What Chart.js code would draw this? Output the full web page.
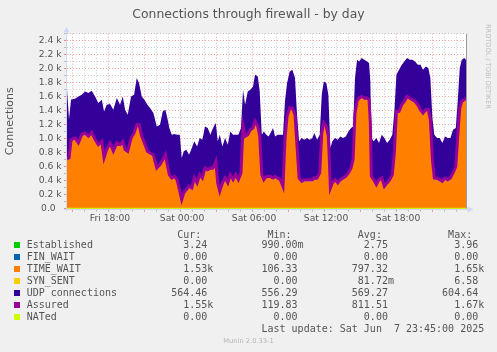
<!DOCTYPE html>
<html><head><meta charset="utf-8">
<script src="https://cdn.jsdelivr.net/npm/chart.js@4.4.1/dist/chart.umd.min.js"></script>
<style>
html,body{margin:0;padding:0;background:#F0F0F0;}
body{width:497px;height:352px;position:relative;overflow:hidden;font-family:"DejaVu Sans",sans-serif;}
#c{position:absolute;left:0;top:0;}
.t{position:absolute;white-space:pre;color:#555;}
#title{left:0;width:497px;text-align:center;top:6.5px;font-size:12.4px;line-height:14px;}
.lg{font-family:"DejaVu Sans Mono",monospace;font-size:10px;line-height:12px;left:26.7px;}
.box{position:absolute;width:6px;height:6px;left:14px;}
#side{left:484.3px;top:24px;font-size:6.6px;line-height:8px;writing-mode:vertical-rl;color:#bcbcbc;}
#munin{left:0;width:497px;text-align:center;top:337px;font-size:6.7px;line-height:8px;color:#b4b4b4;}
</style></head><body>
<canvas id="c" width="497" height="352"></canvas>
<div id="title" class="t">Connections through firewall - by day</div>
<div id="side" class="t">RRDTOOL / TOBI OETIKER</div>
<div id="legend"></div>
<div id="munin" class="t">Munin 2.0.33-1</div>
<script>
// ---- data (hours since Fri 00:00) ----
const hours = [14.58,14.75,14.92,15.25,15.53,15.81,16.08,16.36,16.64,16.92,
17.19,17.48,17.67,17.89,18.17,18.44,18.73,19.00,19.23,19.42,
19.64,19.92,20.17,20.39,20.58,20.81,21.03,21.28,21.50,21.78,
22.06,22.33,22.56,22.78,22.94,23.11,23.31,23.53,23.75,23.98,
24.14,24.31,24.53,24.75,24.98,25.19,25.42,25.64,25.86,26.08,
26.31,26.53,26.75,26.98,27.14,27.31,27.53,27.75,27.98,28.19,
28.42,28.64,28.86,29.08,29.25,29.42,29.64,29.86,30.08,30.25,
30.48,30.64,30.81,30.98,31.19,31.38,31.54,31.75,31.92,32.14,
32.36,32.58,32.75,32.92,33.14,33.36,33.58,33.75,33.92,34.14,
34.36,34.58,34.81,35.03,35.19,35.42,35.64,35.81,35.98,36.19,
36.36,36.53,36.69,36.92,37.14,37.36,37.58,37.81,38.03,38.25,
38.42,38.58,38.75,38.92,39.14,39.36,39.58,39.75,39.86,39.94,
40.14,40.36,40.58,40.81,41.03,41.25,41.48,41.69,41.86,42.03,
42.25,42.48,42.69,42.92,43.14,43.36,43.58,43.81,44.03,44.25,
44.48,44.69,44.86,45.03,45.19,45.42,45.64,45.86,46.08,46.31,
46.53,46.75,46.98,47.14,47.31,47.48,47.69,47.83];

const timeWait = [700,700,960,985,914,1033,1057,1009,1066,962,
890,938,700,819,914,795,914,890,938,819,
795,985,1057,1176,1176,1009,914,795,771,747,
557,605,676,747,605,462,414,438,390,224,
105,200,248,295,271,414,343,462,414,557,
533,557,557,652,343,224,343,414,343,462,
390,462,390,486,1152,1009,1033,1104,1128,1223,
1152,1009,462,390,438,438,438,414,438,414,
390,295,985,1295,1414,1414,1319,866,414,367,
390,390,390,390,414,414,486,1057,1200,1152,
1009,271,343,390,343,390,414,438,486,557,
676,1342,1509,1557,1580,1557,1557,1533,1200,438,
390,319,390,414,295,343,390,462,771,1366,
1366,1461,1509,1580,1557,1533,1509,1461,1390,1342,
1390,1390,1247,676,414,414,390,367,414,390,
414,486,581,1009,1414,1509,1533,1557];

const udp = [1000,580,600,586,690,595,619,643,619,642,
619,619,690,666,581,619,666,595,666,595,
547,619,571,690,619,595,643,690,667,619,
619,595,714,667,690,690,643,628,667,833,
619,619,595,476,595,548,547,547,571,619,
619,500,595,571,619,833,547,595,571,642,
667,595,667,666,548,476,643,596,619,691,
738,667,595,714,619,595,642,738,595,643,
667,762,560,500,547,571,547,476,548,642,
595,619,595,619,666,571,571,571,618,643,
619,595,619,619,642,643,595,595,618,595,
500,520,619,547,572,571,547,547,618,571,
572,690,548,643,714,595,595,595,619,548,
619,595,595,572,571,595,595,595,666,643,
642,619,619,619,643,595,619,571,619,619,
595,642,571,524,595,619,619,571];

const assured = [722,728,985,1012,940,1060,1080,1036,1090,988,
915,962,728,845,938,822,940,915,962,845,
820,1010,1082,1200,1202,1034,940,820,796,772,
582,630,700,772,630,488,440,462,415,250,
130,226,272,320,296,440,368,488,440,582,
558,582,582,676,368,250,368,440,368,488,
415,488,415,512,1176,1034,1058,1130,1152,1248,
1178,1034,488,415,462,464,462,440,462,440,
415,320,1010,1320,1440,1438,1344,890,440,392,
415,415,416,415,440,438,512,1082,1226,1176,
1034,296,368,415,368,415,440,462,512,582,
700,1366,1534,1582,1604,1582,1582,1558,1226,462,
415,345,415,440,320,368,415,488,796,1390,
1392,1486,1534,1604,1582,1558,1534,1486,1415,1366,
1415,1416,1272,700,440,438,415,392,440,415,
440,512,606,1034,1440,1534,1558,1582];

const edgeHours = [14.58, 47.83];
const established = [3, 3.24];
const nated = [0, 0];

const seriesNames  = ['Established','FIN_WAIT','TIME_WAIT','SYN_SENT','UDP connections','Assured','NATed'];
const seriesColors = ['#00CC00','#0066B3','#FF8000','#FFCC00','#330099','#990099','#CCFF00'];
const curVals = ['3.24','0.00','1.53k','0.00','564.46','1.55k','0.00'];
const minVals = ['990.00m','0.00','106.33','0.00','556.29','119.83','0.00'];
const avgVals = ['2.75','0.00','797.32','81.72m','569.27','811.51','0.00'];
const maxVals = ['3.96','0.00','1.65k','6.58','604.64','1.67k','0.00'];
const lastUpdate = 'Last update: Sat Jun  7 23:45:00 2025';

const xGridHours = [15,16,17,18,19,20,21,22,23,24,25,26,27,28,29,30,31,32,33,34,35,36,37,38,39,40,41,42,43,44,45,46,47];
const xLabelHours = [18,24,30,36,42];
const xLabels = ['Fri 18:00','Sat 00:00','Sat 06:00','Sat 12:00','Sat 18:00'];
const yGridValues = [0,100,200,300,400,500,600,700,800,900,1000,1100,1200,1300,1400,1500,1600,1700,1800,1900,2000,2100,2200,2300,2400,2500];
const yLabelValues = [0,200,400,600,800,1000,1200,1400,1600,1800,2000,2200,2400];
const yLabels = ['0.0  ','0.2 k','0.4 k','0.6 k','0.8 k','1.0 k','1.2 k','1.4 k','1.6 k','1.8 k','2.0 k','2.2 k','2.4 k'];

// ---- legend (text) ----
(function(){
  const lg = document.getElementById('legend');
  function put(a, s, col){ for (let i=0;i<s.length;i++) a[col+i]=s[i]; }
  const hdr = Array(76).fill(' ');
  put(hdr,'Cur:',25); put(hdr,'Min:',40); put(hdr,'Avg:',55); put(hdr,'Max:',70);
  const h = document.createElement('div'); h.className='t lg'; h.style.top='228.7px';
  h.textContent = hdr.join('').replace(/\s+$/,''); lg.appendChild(h);
  const ends=[30,45,60,75];
  seriesNames.forEach((name,i)=>{
    const a = Array(77).fill(' ');
    put(a,name,0);
    [curVals[i],minVals[i],avgVals[i],maxVals[i]].forEach((s,j)=>{
      let num=s, unit=' ';
      if (/[a-z]$/i.test(s)) { unit=s.slice(-1); num=s.slice(0,-1); }
      put(a,num,ends[j]-num.length); put(a,unit,ends[j]);
    });
    const d=document.createElement('div'); d.className='t lg';
    d.style.top=(239.3+12*i)+'px'; d.textContent=a.join('').replace(/\s+$/,'');
    lg.appendChild(d);
    const b=document.createElement('div'); b.className='box';
    b.style.top=(242.3+12*i)+'px'; b.style.background=seriesColors[i];
    lg.appendChild(b);
  });
  const lu=Array(77).fill(' '); put(lu,lastUpdate,39);
  const d=document.createElement('div'); d.className='t lg';
  d.style.top=(239.3+12*7)+'px'; d.textContent=lu.join('').replace(/\s+$/,'');
  lg.appendChild(d);
})();

// ---- chart ----
const pts = (xs, ys) => xs.map((x,i)=>({x:x, y:ys[i]}));
const AXIS = '#CFD6F8';
const MINOR = 'rgba(120,120,120,0.38)';
const MAJOR = 'rgba(235,70,70,0.5)';

const deco = {
  id:'deco',
  beforeDraw(c){
    const a=c.chartArea, x=c.ctx; x.save();
    x.fillStyle='#FFFFFF'; x.fillRect(a.left,a.top,a.right-a.left,a.bottom-a.top);
    x.restore();
  },
  afterDraw(c){
    const a=c.chartArea, x=c.ctx; x.save();
    x.strokeStyle='#9a9a9a'; x.lineWidth=1;
    x.beginPath(); x.moveTo(Math.round(a.right)+0.5,a.top); x.lineTo(Math.round(a.right)+0.5,a.bottom); x.stroke();
    x.strokeStyle=AXIS;
    x.beginPath(); x.moveTo(66.5,a.bottom+3); x.lineTo(66.5,a.top-4); x.stroke();
    x.beginPath(); x.moveTo(64,Math.round(a.bottom)+0.5); x.lineTo(a.right+4,Math.round(a.bottom)+0.5); x.stroke();
    x.fillStyle=AXIS;
    x.beginPath(); x.moveTo(63.5,a.top-1.5); x.lineTo(69.5,a.top-1.5); x.lineTo(66.5,a.top-7); x.closePath(); x.fill();
    const yb=Math.round(a.bottom)+0.5;
    x.beginPath(); x.moveTo(a.right+1.5,yb-3); x.lineTo(a.right+1.5,yb+3); x.lineTo(a.right+7.5,yb); x.closePath(); x.fill();
    x.restore();
  }
};

new Chart(document.getElementById('c'), {
  type:'line',
  data:{ datasets:[
    {label:seriesNames[6], data:pts(edgeHours,nated), stack:'n', borderColor:seriesColors[6], borderWidth:2, fill:false},
    {label:seriesNames[5], data:pts(hours,assured), stack:'a', borderColor:seriesColors[5], borderWidth:3, fill:false},
    {label:seriesNames[2], data:pts(hours,timeWait), stack:'s', backgroundColor:seriesColors[2], borderWidth:0, fill:'origin'},
    {label:seriesNames[4], data:pts(hours,udp), stack:'s', backgroundColor:seriesColors[4], borderWidth:0, fill:2},
    {label:seriesNames[0], data:pts(edgeHours,established), stack:'e', backgroundColor:seriesColors[0], borderWidth:0, fill:'origin'}
  ]},
  options:{
    responsive:false, animation:false, devicePixelRatio:1,
    layout:{padding:{left:0, top:33.7, right:31, bottom:123.3}},
    elements:{point:{radius:0, hoverRadius:0}, line:{tension:0}},
    plugins:{legend:{display:false}, tooltip:{enabled:false}, title:{display:false}},
    scales:{
      x:{
        type:'linear', min:hours[0], max:hours[hours.length-1], z:1,
        afterBuildTicks:s=>{ s.ticks = xGridHours.map(v=>({value:v})); },
        afterFit:s=>{ s.height=20; },
        border:{display:false, dash:[1,2]},
        grid:{color:c=>(c.tick && c.tick.value%3===0)?MAJOR:MINOR, tickLength:3, tickColor:c=>(c.tick && c.tick.value%3===0)?'#e88':'#bbb'},
        ticks:{autoSkip:false, maxRotation:0, padding:1, labelOffset:2, color:'#555',
          font:{family:'DejaVu Sans', size:9.2},
          callback:(v)=>{ const k=xLabelHours.indexOf(v); return k>=0?xLabels[k]:''; }}
      },
      y:{
        stacked:true, min:0, max:2500, z:1,
        afterBuildTicks:s=>{ s.ticks = yGridValues.map(v=>({value:v})); },
        afterFit:s=>{ s.width=67; },
        border:{display:false, dash:[1,2]},
        grid:{color:c=>(c.tick && c.tick.value%200===0)?MAJOR:MINOR, tickLength:3, tickColor:c=>(c.tick && c.tick.value%200===0)?'#e88':'#bbb'},
        ticks:{autoSkip:false, padding:2.5, color:'#555', font:{family:'DejaVu Sans', size:9.2},
          callback:(v)=>{ const k=yLabelValues.indexOf(v); return k>=0?yLabels[k]:''; }},
        title:{display:true, text:'Connections', color:'#555', font:{family:'DejaVu Sans', size:11}, padding:{top:4,bottom:0}}
      }
    }
  },
  plugins:[deco]
});
</script>
</body></html>
